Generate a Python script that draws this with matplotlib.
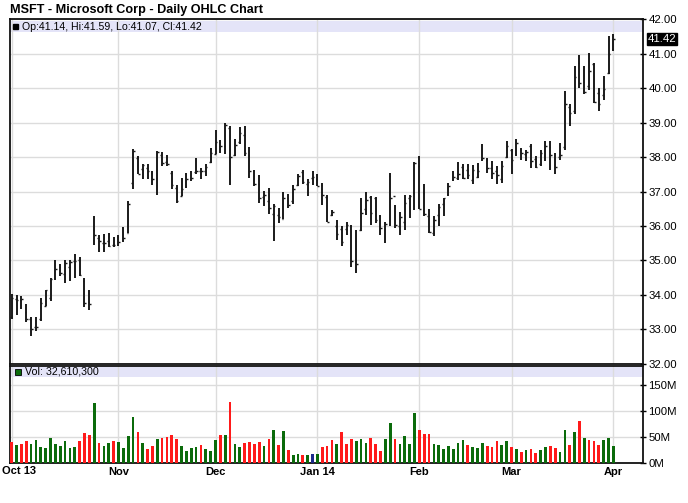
import matplotlib
matplotlib.use("Agg")
import matplotlib.pyplot as plt
import pandas as pd
from matplotlib.patches import Rectangle

plt.rcParams['font.family'] = ['Liberation Sans', 'DejaVu Sans']

# trading days Oct 2 2013 .. Apr 1 2014
holidays = ["2013-11-28", "2013-12-25", "2014-01-01", "2014-01-20", "2014-02-17"]
dates = pd.bdate_range("2013-10-02", "2014-04-01", freq="C", holidays=holidays)

opens = [33.36, 33.88, 33.86, 33.50, 33.31, 33.07, 33.31, 33.68, 33.90, 34.50,
         34.80, 34.60, 34.82, 34.98, 35.00, 34.40, 33.80, 35.88, 35.66, 35.50,
         35.55, 35.45, 35.67, 35.59, 35.79, 37.24, 37.96, 37.65, 37.69, 37.55,
         37.38, 38.07, 37.87, 37.55, 37.10, 36.88, 37.15, 37.35, 37.57, 37.60,
         37.60, 37.86, 38.09, 38.45, 38.32, 38.85, 38.06, 38.43, 38.65, 38.06,
         37.59, 37.22, 36.85, 36.74, 36.36, 36.32, 36.20, 36.81, 36.72, 37.20,
         37.58, 37.22, 37.40, 37.35, 37.20, 36.85, 36.33, 36.00, 35.90, 35.90,
         35.99, 34.73, 35.88, 36.48, 36.83, 36.81, 36.29, 35.90, 37.45, 36.87,
         36.00, 36.13, 36.80, 36.95, 37.74, 36.97, 36.29, 35.80, 36.32, 36.63,
         36.94, 37.35, 37.38, 37.70, 37.63, 37.33, 37.43, 37.95, 37.92, 37.67,
         37.61, 37.35, 38.00, 38.20, 38.10, 38.20, 38.08, 38.31, 37.95, 37.80,
         38.00, 38.30, 37.95, 38.00, 38.30, 39.46, 39.33, 40.72, 40.17, 40.07,
         40.70, 39.85, 39.79, 40.43, 41.14]
highs = [34.03, 34.00, 33.97, 33.73, 33.37, 33.35, 33.90, 34.14, 34.48, 35.01,
         34.90, 35.00, 35.00, 35.20, 35.10, 34.50, 34.14, 36.29, 35.74, 35.76,
         35.79, 35.69, 35.73, 35.98, 36.73, 38.25, 38.03, 37.79, 37.79, 37.60,
         38.18, 38.15, 38.05, 37.60, 37.20, 37.40, 37.55, 37.60, 37.96, 37.69,
         37.79, 38.27, 38.79, 38.50, 38.98, 38.90, 38.54, 38.88, 38.90, 38.30,
         37.64, 37.47, 37.02, 37.11, 36.63, 36.53, 36.98, 36.92, 37.18, 37.50,
         37.64, 37.35, 37.60, 37.50, 37.24, 36.90, 36.47, 36.18, 35.99, 36.13,
         36.03, 35.89, 36.81, 37.00, 36.86, 36.84, 36.33, 36.13, 37.54, 36.62,
         36.42, 36.90, 36.90, 37.87, 38.03, 37.21, 36.48, 36.29, 36.63, 36.82,
         37.26, 37.60, 37.86, 37.79, 37.79, 37.76, 37.84, 38.37, 37.98, 37.89,
         37.74, 37.89, 38.47, 38.23, 38.52, 38.27, 38.22, 38.37, 38.03, 38.22,
         38.47, 38.47, 38.12, 38.42, 39.92, 39.53, 40.64, 40.98, 40.64, 41.03,
         40.74, 40.01, 40.35, 41.51, 41.59]
lows = [33.30, 33.42, 33.60, 33.22, 32.80, 32.96, 33.25, 33.68, 33.82, 34.43,
        34.56, 34.33, 34.40, 34.48, 34.56, 33.66, 33.56, 35.45, 35.23, 35.25,
        35.38, 35.40, 35.42, 35.53, 35.79, 37.06, 37.50, 37.35, 37.35, 37.20,
        36.89, 37.74, 37.74, 37.06, 36.68, 36.87, 37.11, 37.30, 37.50, 37.35,
        37.45, 37.84, 38.08, 38.13, 38.08, 37.18, 38.03, 38.37, 38.03, 37.40,
        37.16, 36.68, 36.58, 36.34, 35.56, 36.10, 36.19, 36.53, 36.63, 37.16,
        37.21, 36.87, 37.20, 37.15, 36.62, 36.13, 36.28, 35.60, 35.41, 35.74,
        34.82, 34.63, 35.84, 36.32, 36.03, 36.08, 35.74, 35.50, 35.99, 35.94,
        35.74, 35.89, 36.23, 36.47, 36.48, 36.29, 35.81, 35.71, 36.00, 36.29,
        36.87, 37.30, 37.33, 37.37, 37.35, 37.21, 37.40, 37.89, 37.55, 37.35,
        37.21, 37.24, 37.98, 37.50, 38.03, 37.93, 37.88, 37.69, 37.69, 37.74,
        37.88, 37.64, 37.50, 37.93, 38.22, 38.90, 39.24, 40.01, 39.82, 39.96,
        39.58, 39.33, 39.67, 40.40, 41.07]
closes = [33.92, 33.86, 33.88, 33.30, 33.01, 33.07, 33.76, 34.13, 34.45, 34.75,
          34.64, 34.92, 34.96, 34.99, 34.58, 33.76, 33.72, 35.73, 35.57, 35.52,
          35.41, 35.45, 35.53, 35.66, 36.64, 38.18, 37.50, 37.78, 37.59, 37.35,
          38.16, 37.84, 37.80, 37.20, 36.74, 37.08, 37.35, 37.40, 37.60, 37.60,
          37.70, 38.13, 38.45, 38.31, 38.94, 38.00, 38.36, 38.71, 38.11, 37.61,
          37.22, 36.80, 36.89, 36.52, 36.58, 36.25, 36.80, 36.62, 37.08, 37.44,
          37.29, 37.29, 37.41, 37.16, 36.91, 36.13, 36.41, 35.76, 35.53, 36.04,
          34.98, 34.89, 36.38, 36.76, 36.38, 36.17, 35.93, 36.06, 36.81, 36.03,
          36.27, 36.66, 36.86, 37.84, 36.48, 36.35, 35.82, 36.18, 36.56, 36.80,
          37.17, 37.42, 37.51, 37.39, 37.47, 37.62, 37.61, 37.98, 37.69, 37.54,
          37.47, 37.74, 38.31, 37.92, 38.41, 38.11, 38.15, 37.90, 37.70, 38.11,
          38.32, 38.07, 37.70, 38.05, 39.55, 39.27, 40.33, 40.16, 39.90, 40.50,
          39.59, 39.54, 39.98, 40.99, 41.42]

# volume in millions, and bar colour code (g up, r down, b marked day)
volume = [40, 34, 36, 42, 36, 43, 30, 28, 47, 36,
          32, 42, 28, 30, 42, 58, 53, 115, 38, 32,
          38, 42, 40, 28, 52, 88, 60, 38, 27, 32,
          45, 47, 50, 53, 45, 32, 22, 28, 30, 34,
          27, 23, 44, 53, 53, 117, 36, 30, 38, 40,
          37, 40, 32, 45, 64, 34, 62, 25, 15, 17,
          15, 15, 17, 17, 30, 32, 44, 36, 60, 36,
          45, 42, 45, 38, 47, 37, 23, 45, 77, 45,
          36, 52, 36, 95, 64, 56, 56, 36, 34, 27,
          32, 27, 38, 43, 34, 30, 28, 38, 33, 30,
          42, 34, 41, 30, 26, 21, 24, 26, 19, 24,
          30, 33, 28, 21, 64, 35, 60, 81, 47, 43,
          41, 35, 43, 47, 32.61]
vol_dir = list("rgrrgggggg" "ggggrrrgrg" "grggggrgrr" "grrrrggggr" "gggrgrggrr"
               "rrgrgrgrgg" "rgbgrrrgrr" "rgggrrrggr" "ggggrrrggg" "ggggrgggrr"
               "rggrgrgrrg" "grrggrgrgr" "rrggg")

title = "MSFT - Microsoft Corp - Daily OHLC Chart"
month_labels = ["Oct 13", "Nov", "Dec", "Jan 14", "Feb", "Mar", "Apr"]

x = list(range(len(dates)))
month_pos = [i for i in x if i == 0 or dates[i].month != dates[i - 1].month]
colors = {"g": "#0b6b0b", "r": "#ff1a1a", "b": "#1c2a8c"}

W, H = 688, 503
fig = plt.figure(figsize=(W / 100, H / 100), dpi=100)
left, right = 10.3, 643.0
ax = fig.add_axes([left / W, 1 - 363.7 / H, (right - left) / W, (363.7 - 19.4) / H])
axv = fig.add_axes([left / W, 1 - 462.7 / H, (right - left) / W, (462.7 - 365.5) / H])

xlim = (-0.29, 130.1)
grid_kw = dict(color="#dcdcdc", linewidth=1.0)

# price panel
ax.set_xlim(*xlim)
ax.set_ylim(32, 42)
ax.set_axisbelow(True)
ax.add_patch(Rectangle((0, 0.9625), 1, 0.034, transform=ax.transAxes,
                       facecolor="#e4e4f8", edgecolor="none", zorder=0.2))
ax.vlines(x, lows, highs, color="#1a1a1a", linewidth=1.4, zorder=3)
tw = 0.34
ax.hlines(opens, [i - tw for i in x], x, color="#1a1a1a", linewidth=1.0, zorder=3)
ax.hlines(closes, x, [i + tw for i in x], color="#1a1a1a", linewidth=1.0, zorder=3)
ax.set_yticks(range(32, 43))
ax.set_yticklabels([f"{v:.2f}" for v in range(32, 43)])
ax.set_xticks(month_pos)
ax.set_xticklabels([])
ax.grid(True, **grid_kw)
ax.yaxis.tick_right()
ax.tick_params(axis="y", direction="inout", length=4, width=1, pad=2, labelsize=8.2)
ax.tick_params(axis="x", length=0)
for s in ax.spines.values():
    s.set_linewidth(1.3)
    s.set_color("#111111")

ax.annotate(f"{closes[-1]:.2f}", xy=(1.0, closes[-1]), xycoords=("axes fraction", "data"),
            xytext=(3.5, 0), textcoords="offset points", va="center", ha="left",
            fontsize=8.2, color="white",
            bbox=dict(boxstyle="square,pad=0.08", facecolor="black", edgecolor="black"))

fig.text(10 / W, 1 - 9.5 / H, title, fontsize=9.1, fontweight="bold", va="center", ha="left")
fig.add_artist(Rectangle((12.7 / W, 1 - 29.3 / H), 5.6 / W, 5.6 / H,
                         transform=fig.transFigure, facecolor="black", edgecolor="black"))
fig.text(21.5 / W, 1 - 26.5 / H,
         f"Op:{opens[-1]:.2f}, Hi:{highs[-1]:.2f}, Lo:{lows[-1]:.2f}, Cl:{closes[-1]:.2f}",
         fontsize=7.6, va="center", ha="left")

# volume panel
axv.set_xlim(*xlim)
axv.set_ylim(0, (462.7 - 365.5) / 0.5187)
axv.set_axisbelow(True)
axv.add_patch(Rectangle((0, 0.885), 1, 0.103, transform=axv.transAxes,
                        facecolor="#e4e4f8", edgecolor="none", zorder=0.2))
axv.bar(x, volume, width=0.56, color=[colors[c] for c in vol_dir], zorder=3)
axv.set_yticks([0, 50, 100, 150])
axv.set_yticklabels(["0M", "50M", "100M", "150M"])
axv.set_xticks(month_pos)
# first month label is drawn separately so it stays inside the figure
axv.set_xticklabels([""] + month_labels[1:], fontweight="bold")
axv.grid(True, **grid_kw)
axv.yaxis.tick_right()
axv.tick_params(axis="y", direction="inout", length=4, width=1, pad=2, labelsize=8.2)
axv.tick_params(axis="x", length=0, pad=3, labelsize=8)
for s in axv.spines.values():
    s.set_linewidth(1.3)
    s.set_color("#111111")

fig.text(1.5 / W, 1 - 471 / H, month_labels[0], fontsize=8, fontweight="bold",
         va="center", ha="left")

fig.add_artist(Rectangle((15 / W, 1 - 375.3 / H), 6 / W, 6 / H, transform=fig.transFigure,
                         facecolor=colors["g"], edgecolor="black", linewidth=0.6))
fig.text(25 / W, 1 - 372 / H, "Vol: 32,610,300", fontsize=7.7, va="center", ha="left")

fig.savefig("out.png", dpi=100)
